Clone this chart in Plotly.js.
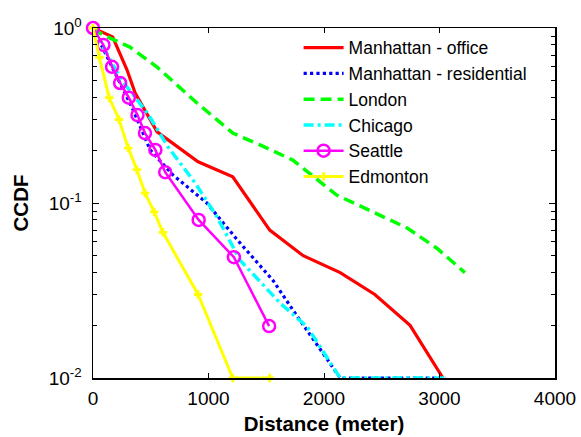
<!DOCTYPE html>
<html><head><meta charset="utf-8">
<script src="https://cdn.plot.ly/plotly-3.0.1.min.js"></script>
<style>html,body{margin:0;padding:0;background:#fff}#c{width:581px;height:437px}</style>
</head><body><div id="c"></div>
<script>
var officeX = [0, 170, 295, 365, 555, 910, 1210, 1530, 1820, 2140, 2440, 2745, 3030];
var officeY = [1, 0.89, 0.575, 0.425, 0.255, 0.172, 0.141, 0.070, 0.050, 0.040, 0.030, 0.020, 0.010];

var resX = [0, 235, 340, 495, 690, 985, 1250, 1560, 1730, 2140, 3050];
var resY = [1, 0.485, 0.349, 0.201, 0.145, 0.100, 0.0615, 0.036, 0.0245, 0.010, 0.010];

var londonX = [0, 87, 320, 555, 900, 1210, 1450, 1730, 2110, 2420, 2720, 2980, 3220];
var londonY = [1, 0.912, 0.778, 0.598, 0.373, 0.251, 0.214, 0.176, 0.111, 0.089, 0.072, 0.055, 0.040];

var chicagoX = [0, 235, 470, 650, 885, 1075, 1275, 1620, 1855, 2140, 3050];
var chicagoY = [1, 0.518, 0.327, 0.209, 0.130, 0.083, 0.047, 0.0268, 0.0196, 0.010, 0.010];

var seattleX = [0, 90, 165, 235, 310, 385, 450, 540, 625, 915, 1220, 1525];
var seattleY = [1, 0.80, 0.60, 0.485, 0.40, 0.318, 0.251, 0.201, 0.150, 0.080, 0.049, 0.0198];

var edmX = [0, 55, 140, 225, 305, 380, 450, 530, 605, 910, 1210, 1530];
var edmY = [1, 0.68, 0.40, 0.30, 0.206, 0.155, 0.114, 0.089, 0.068, 0.030, 0.010, 0.010];

var names = ['Manhattan - office', 'Manhattan - residential', 'London', 'Chicago', 'Seattle', 'Edmonton'];

var traces = [
  {x: officeX, y: officeY, name: names[0], mode: 'lines', line: {color: '#ff0000', width: 3.2}},
  {x: resX, y: resY, name: names[1], mode: 'lines', line: {color: '#0000ff', width: 3.2, dash: 'dot'}},
  {x: londonX, y: londonY, name: names[2], mode: 'lines', line: {color: '#00ff00', width: 3.5, dash: '11px,6px'}},
  {x: chicagoX, y: chicagoY, name: names[3], mode: 'lines', line: {color: '#00ffff', width: 3.5, dash: '10px,4px,3px,4px'}},
  {x: seattleX, y: seattleY, name: names[4], mode: 'lines+markers', line: {color: '#ff00ff', width: 2.5},
   marker: {symbol: 'circle-open', size: 12, color: '#ff00ff', line: {width: 2.5, color: '#ff00ff'}}},
  {x: edmX, y: edmY, name: names[5], mode: 'lines+markers', line: {color: '#ffff00', width: 3},
   marker: {symbol: 'cross', size: 7, color: '#ffff00'}}
];
traces.forEach(function(t){ t.type = 'scatter'; t.cliponaxis = false; });

var layout = {
  width: 581, height: 437,
  margin: {l: 93, r: 26, t: 28, b: 59},
  paper_bgcolor: '#fff', plot_bgcolor: '#fff',
  font: {family: 'Liberation Sans, Arial, sans-serif', size: 19, color: '#000'},
  showlegend: true,
  legend: {x: 0.445, y: 0.995, xanchor: 'left', yanchor: 'top', bgcolor: 'rgba(255,255,255,0)',
           font: {size: 17.5, color: '#000'}, tracegroupgap: 0, itemwidth: 40},
  xaxis: {
    range: [0, 4000], tickvals: [0, 1000, 2000, 3000, 4000], ticks: 'inside', ticklen: 5,
    showline: true, linecolor: '#000', linewidth: 1.5, mirror: 'allticks', showgrid: false, zeroline: false,
    tickfont: {size: 19}, tickcolor: '#000', ticklabelstandoff: 3,
    title: {text: '<b>Distance (meter)</b>', font: {size: 20.5}, standoff: 8}
  },
  yaxis: {
    type: 'log', range: [-2, 0], tickvals: [0.01, 0.1, 1],
    ticktext: ['10<sup>-2</sup>', '10<sup>-1</sup>', '10<sup>0</sup>'],
    ticks: 'inside', ticklen: 6, tickcolor: '#000', ticklabelstandoff: 6,
    minor: {ticks: 'inside', ticklen: 4, tickcolor: '#000', showgrid: false,
            tickvals: [0.02,0.03,0.04,0.05,0.06,0.07,0.08,0.09,0.2,0.3,0.4,0.5,0.6,0.7,0.8,0.9]},
    showline: true, linecolor: '#000', linewidth: 1.5, mirror: 'allticks', showgrid: false, zeroline: false,
    tickfont: {size: 19},
    title: {text: '<b>CCDF</b>', font: {size: 20.5}, standoff: 14}
  }
};

Plotly.newPlot('c', traces, layout, {staticPlot: true});
</script></body></html>
